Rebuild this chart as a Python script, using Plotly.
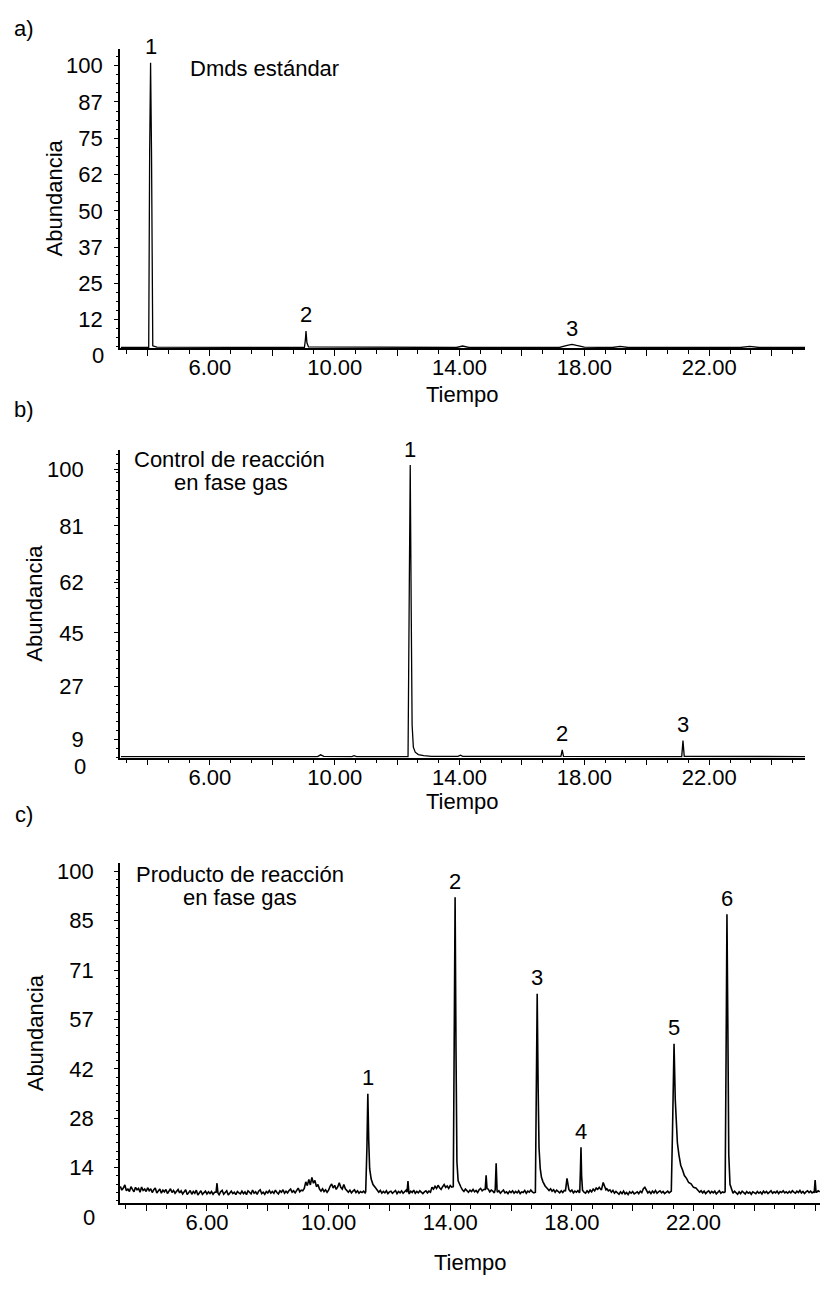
import plotly.graph_objects as go

W, H = 822, 1289
FONT = "Arial, 'Liberation Sans', sans-serif"

# ---------------- a) Dmds estándar ----------------
a_time = [3.15, 4.04, 4.07, 4.10, 4.13, 4.17, 4.3, 9.03, 9.06, 9.08, 9.11, 9.16,
          13.9, 14.1, 14.3, 17.2, 17.45, 17.6, 17.75, 18.0, 18.9, 19.15, 19.4,
          23.0, 23.3, 23.6, 25.07]
a_abund = [2.9, 2.9, 70, 101, 70, 3.5, 3.0, 2.9, 5.5, 8.6, 4.5, 3.1,
           2.9, 3.4, 2.9, 2.9, 3.6, 4.0, 3.6, 3.0, 2.9, 3.3, 2.9,
           2.9, 3.3, 2.9, 2.9]
a_peak_names = ["1", "2", "3"]
a_peak_time = [4.10, 9.08, 17.6]
a_peak_abund = [101, 8.6, 4.0]
a_ytick_vals = [0, 12.5, 25, 37.5, 50, 62.5, 75, 87.5, 100]
a_ytick_text = ["0", "12", "25", "37", "50", "62", "75", "87", "100"]

# ---------------- b) Control de reacción ----------------
b_time = [3.15, 9.45, 9.55, 9.65, 10.55, 10.62, 10.7, 12.35, 12.39, 12.42, 12.45,
          12.48, 12.52, 12.58, 12.68, 12.85, 13.1, 13.95, 14.03, 14.1, 17.25,
          17.29, 17.33, 21.12, 21.16, 21.2, 25.07]
b_abund = [3.3, 3.3, 3.9, 3.4, 3.3, 3.6, 3.3, 3.3, 60, 101.5, 55,
           14, 6.5, 4.8, 4.0, 3.6, 3.4, 3.4, 3.8, 3.4, 3.4,
           5.6, 3.4, 3.3, 8.7, 3.4, 3.3]
b_peak_names = ["1", "2", "3"]
b_peak_time = [12.42, 17.29, 21.16]
b_peak_abund = [101.5, 5.6, 8.7]
b_ytick_vals = [0, 9, 27, 45, 62, 81, 100]
b_ytick_text = ["0", "9", "27", "45", "62", "81", "100"]

# ---------------- c) Producto de reacción ----------------
# detector baseline, one sample every 0.05 min starting at 3.15 min (one row = 1 min)
c_scan_start = 3.15
c_scan_step = 0.05
c_baseline = [
    8.9, 7.8, 8.4, 9.3, 7.6, 8.1, 7.4, 8.8, 8.0, 7.3, 8.6, 7.9, 8.3, 7.2, 8.7, 7.7, 8.1, 7.4, 8.5, 7.6,
    8.2, 7.1, 7.9, 8.4, 7.0, 7.6, 8.1, 6.9, 7.8, 7.3, 8.0, 6.8, 7.5, 8.2, 7.1, 7.7, 6.9, 7.4, 8.0, 7.0,
    7.6, 6.7, 7.3, 7.9, 6.5, 7.1, 7.7, 6.6, 7.4, 6.9, 7.8, 6.4, 7.2, 7.6, 6.6, 7.0, 7.5, 6.7, 7.3, 6.8,
    7.4, 6.6, 7.2, 7.8, 7.0, 6.5, 7.3, 7.7, 6.6, 7.1, 7.6, 6.4, 7.0, 7.5, 6.8, 7.2, 6.5, 7.4, 7.0, 6.7,
    7.5, 6.8, 7.3, 6.5, 7.6, 7.1, 6.7, 7.8, 6.9, 7.3, 6.6, 7.5, 7.9, 6.8, 7.2, 6.6, 7.4, 7.0, 7.7, 6.9,
    7.4, 6.9, 7.8, 7.1, 6.7, 7.6, 7.2, 7.9, 6.9, 7.5, 7.0, 7.7, 8.1, 7.2, 7.6, 7.0, 7.9, 8.4, 7.3, 7.8,
    7.6, 8.3, 10.2, 9.1, 10.9, 9.3, 11.5, 9.8, 10.6, 8.8, 9.4, 8.1, 7.5, 8.2, 7.4, 7.9, 7.2, 7.8, 8.9, 9.6,
    8.4, 9.2, 8.0, 8.7, 9.9, 8.6, 8.1, 9.4, 8.2, 7.6, 7.2, 7.8, 7.0, 7.5, 7.9, 7.1, 7.6, 6.9, 7.4, 7.1,
    7.5, 7.0, 7.6, 7.3, 7.8, 7.4, 7.9, 7.5, 7.8, 7.6, 7.2, 7.7, 6.9, 7.4, 7.0, 7.6, 6.8, 7.3, 7.5, 6.9,
    7.2, 7.7, 6.8, 7.4, 7.0, 7.6, 6.9, 7.3, 7.8, 7.0, 6.7, 7.5, 7.1, 7.8, 6.9, 7.4, 7.0, 7.6, 7.2, 6.8,
    7.3, 7.6, 7.0, 7.5, 7.2, 8.6, 8.1, 8.9, 8.3, 9.2, 8.5, 8.0, 8.8, 9.4, 8.6, 9.0, 8.3, 9.1, 8.7, 9.2,
    9.0, 8.8, 8.5, 8.2, 8.7, 7.9, 7.4, 8.1, 7.6, 7.2, 7.8, 7.4, 8.0, 7.3, 7.7, 7.1, 7.9, 8.3, 7.6, 8.0,
    8.4, 7.6, 8.1, 7.3, 7.8, 7.5, 7.0, 7.7, 7.2, 7.6, 6.9, 7.4, 7.8, 7.0, 7.3, 6.8, 7.5, 7.1, 7.6, 6.9,
    7.4, 7.0, 7.6, 6.8, 7.3, 7.1, 7.7, 6.9, 7.5, 7.2, 7.8, 7.3, 7.0, 7.6, 7.2, 7.9, 7.4, 8.0, 7.6, 8.3,
    8.6, 8.1, 7.7, 8.2, 7.5, 7.9, 7.2, 7.8, 7.4, 7.0, 7.6, 7.1, 7.7, 7.3, 7.5, 6.9, 7.4, 7.8, 7.0, 7.5,
    7.2, 7.7, 7.0, 7.5, 7.9, 7.2, 6.9, 7.6, 7.1, 7.8, 7.3, 8.1, 7.6, 8.4, 8.0, 8.6, 8.2, 8.9, 8.4, 8.0,
    8.2, 7.6, 7.9, 7.2, 7.7, 6.9, 7.4, 7.0, 6.6, 7.3, 6.8, 7.5, 6.7, 7.1, 6.5, 7.3, 6.9, 7.4, 6.7, 7.0,
    7.3, 6.8, 7.5, 7.1, 8.2, 8.6, 7.6, 7.0, 7.4, 6.8, 7.5, 7.0, 7.7, 6.9, 7.3, 7.6, 7.0, 7.4, 6.8, 7.2,
    7.5, 7.0, 7.6, 7.3, 7.5, 7.2, 7.7, 7.4, 7.6, 7.3, 7.8, 7.4, 7.6, 7.3, 7.7, 7.4, 7.6, 7.3, 7.5, 7.2,
    7.8, 7.2, 7.6, 7.0, 7.5, 6.8, 7.3, 7.6, 6.9, 7.4, 7.0, 7.5, 6.7, 7.2, 7.6, 6.9, 7.3, 7.1, 7.4, 7.0,
    7.2, 6.7, 7.4, 6.9, 7.5, 7.0, 6.6, 7.3, 6.8, 7.5, 7.1, 6.7, 7.4, 6.9, 7.2, 6.6, 7.3, 7.0, 6.8, 7.4,
    6.9, 7.3, 6.7, 7.5, 7.0, 7.4, 6.8, 7.2, 7.6, 6.9, 7.3, 7.0, 7.5, 6.8, 7.4, 7.1, 7.6, 7.0, 7.3, 6.9,
    7.4, 7.0, 7.6, 7.2, 6.9, 7.5, 7.1, 7.7, 7.0, 7.4, 6.8, 7.3, 7.6, 7.1, 7.5, 7.0, 7.3, 7.8, 7.2, 7.6,
    7.3,
]
# peaks and spikes sampled finely (time, abundance)
c_seg_time = [
    [6.30, 6.33, 6.36],
    [11.22, 11.26, 11.29, 11.32, 11.35, 11.40, 11.46, 11.53, 11.60],
    [12.58, 12.61, 12.64],
    [14.10, 14.13, 14.16, 14.19, 14.22, 14.26, 14.32],
    [15.15, 15.18, 15.21],
    [15.48, 15.51, 15.54],
    [16.80, 16.83, 16.86, 16.89, 16.92, 16.96, 17.00, 17.05, 17.12, 17.20],
    [17.79, 17.84, 17.90],
    [18.26, 18.28, 18.30, 18.32, 18.35],
    [18.97, 19.03, 19.12],
    [21.27, 21.31, 21.36, 21.40, 21.43, 21.47, 21.52, 21.58, 21.64, 21.70,
     21.77, 21.84, 21.92, 22.00, 22.08, 22.16],
    [23.04, 23.07, 23.10, 23.13, 23.16, 23.20, 23.26],
    [25.97, 26.00, 26.03],
]
c_seg_abund = [
    [7.2, 9.8, 7.0],
    [7.3, 20.0, 35.7, 22.0, 14.0, 11.0, 9.4, 8.6, 7.6],
    [7.2, 10.4, 7.0],
    [8.8, 50.0, 92.5, 48.0, 16.0, 10.5, 9.0],
    [8.0, 12.1, 8.2],
    [8.0, 15.6, 7.8],
    [7.2, 35.0, 64.6, 38.0, 20.0, 14.0, 11.5, 10.2, 9.0, 8.2],
    [7.6, 11.2, 8.0],
    [7.4, 13.0, 20.2, 12.0, 7.8],
    [7.8, 10.0, 7.9],
    [7.5, 25.0, 50.1, 34.0, 27.0, 21.5, 18.0, 15.0, 13.6, 12.0,
     11.2, 10.0, 9.6, 8.6, 8.4, 7.7],
    [7.3, 45.0, 87.6, 55.0, 18.0, 9.5, 7.6],
    [7.0, 10.7, 7.2],
]
c_peak_names = ["1", "2", "3", "4", "5", "6"]
c_peak_segment = [1, 3, 6, 8, 10, 11]
c_ytick_vals = [0, 100 / 7, 200 / 7, 300 / 7, 400 / 7, 500 / 7, 600 / 7, 100]
c_ytick_text = ["0", "14", "28", "42", "57", "71", "85", "100"]

# x axis: ticks every 2 min, labels every 4 min
ab_xtick_vals = [4, 6, 8, 10, 12, 14, 16, 18, 20, 22, 24]
ab_xtick_text = ["", "6.00", "", "10.00", "", "14.00", "", "18.00", "", "22.00", ""]
c_xtick_vals = [4, 6, 8, 10, 12, 14, 16, 18, 20, 22, 24, 26]
c_xtick_text = ["", "6.00", "", "10.00", "", "14.00", "", "18.00", "", "22.00", "", ""]

# assemble the panel c trace: baseline samples outside the finely sampled segments
base_t = [c_scan_start + i * c_scan_step for i in range(len(c_baseline))]
spans = [(seg[0], seg[-1]) for seg in c_seg_time]
c_points = [(t, y) for t, y in zip(base_t, c_baseline)
            if not any(lo <= t <= hi for lo, hi in spans)]
for st, sy in zip(c_seg_time, c_seg_abund):
    c_points += list(zip(st, sy))
c_points.sort()
c_time = [p[0] for p in c_points]
c_abund = [p[1] for p in c_points]
c_peak_time = [c_seg_time[i][c_seg_abund[i].index(max(c_seg_abund[i]))] for i in c_peak_segment]
c_peak_abund = [max(c_seg_abund[i]) for i in c_peak_segment]

# ---------------- layout geometry (pixels) ----------------
panels = [
    dict(key="", t=a_time, y=a_abund, px=(120, 805), py=(45, 345), xr=(3.12, 25.07),
         yr=(2.75, 105.8), yv=a_ytick_vals, yt=a_ytick_text, ymin=3.125,
         xv=ab_xtick_vals, xt=ab_xtick_text, stand=7, lab_gap=14,
         names=a_peak_names, pt=a_peak_time, pa=a_peak_abund, ytitle_x=54),
    dict(key="2", t=b_time, y=b_abund, px=(120, 805), py=(447, 756), xr=(3.12, 25.07),
         yr=(2.95, 106.7), yv=b_ytick_vals, yt=b_ytick_text, ymin=3,
         xv=ab_xtick_vals, xt=ab_xtick_text, stand=26, lab_gap=32,
         names=b_peak_names, pt=b_peak_time, pa=b_peak_abund, ytitle_x=35),
    dict(key="3", t=c_time, y=c_abund, px=(120, 820), py=(862, 1203), xr=(3.14, 26.16),
         yr=(4.0, 102.3), yv=c_ytick_vals, yt=c_ytick_text, ymin=100 / 42,
         xv=c_xtick_vals, xt=c_xtick_text, stand=16, lab_gap=23,
         names=c_peak_names, pt=c_peak_time, pa=c_peak_abund, ytitle_x=35),
]
xtitle_y = [392, 800, 1262]
letters = [("a)", 25), ("b)", 407), ("c)", 813)]


def fx(x):
    return x / W


def fy(y):
    return 1 - y / H


fig = go.Figure()
annotations = []
layout = dict(
    width=W, height=H, margin=dict(l=0, r=0, t=0, b=0),
    paper_bgcolor="white", plot_bgcolor="white", showlegend=False,
    font=dict(family=FONT, size=22, color="black"),
)

for i, p in enumerate(panels):
    k = p["key"]
    fig.add_trace(go.Scatter(
        x=p["t"], y=p["y"], mode="lines", xaxis="x" + k, yaxis="y" + k,
        line=dict(color="black", width=1.6 if k == "3" else 1.3),
        hoverinfo="skip",
    ))
    layout["xaxis" + k] = dict(
        domain=[fx(p["px"][0]), fx(p["px"][1])], range=list(p["xr"]),
        anchor="y" + k, showline=True, linecolor="black", linewidth=1.6,
        ticks="outside", ticklen=6, tickwidth=1.2, tickcolor="black",
        tickmode="array", tickvals=p["xv"], ticktext=p["xt"],
        tickfont=dict(size=22), ticklabelstandoff=-7,
        showgrid=False, zeroline=False,
        minor=dict(ticks="outside", ticklen=4, tickwidth=1, tickcolor="black",
                   tick0=0, dtick=2 / 3, showgrid=False),
    )
    layout["yaxis" + k] = dict(
        domain=[fy(p["py"][1]), fy(p["py"][0])], range=list(p["yr"]),
        anchor="x" + k, showline=True, linecolor="black", linewidth=1.6,
        ticks="outside", ticklen=4, tickwidth=1.2, tickcolor="black",
        tickmode="array", tickvals=p["yv"], ticktext=p["yt"],
        tickfont=dict(size=22), ticklabelstandoff=p["stand"],
        showgrid=False, zeroline=False,
        minor=dict(ticks="outside", ticklen=2.5, tickwidth=1, tickcolor="black",
                   tick0=0, dtick=p["ymin"], showgrid=False),
    )
    # tick labels that sit below the x axis line (value below the axis start)
    r0, r1 = p["yr"]
    top, bot = p["py"]
    for v, txt in zip(p["yv"], p["yt"]):
        if v < r0:
            ypx = bot + (r0 - v) / (r1 - r0) * (bot - top)
            annotations.append(dict(
                text=txt, xref="paper", yref="paper", x=fx(p["px"][0] - p["lab_gap"]),
                y=fy(ypx), xanchor="right", yanchor="middle", showarrow=False,
                font=dict(size=22)))
    # peak numbers
    for name, t, a in zip(p["names"], p["pt"], p["pa"]):
        annotations.append(dict(
            text=name, x=t, y=a, xref="x" + k, yref="y" + k, showarrow=False,
            yshift=16, yanchor="middle", xanchor="center", font=dict(size=22)))
    # axis titles
    annotations.append(dict(
        text="Abundancia", xref="paper", yref="paper", x=fx(p["ytitle_x"]),
        y=fy((top + bot) / 2), textangle=-90, showarrow=False,
        xanchor="center", yanchor="middle", font=dict(size=22)))
    annotations.append(dict(
        text="Tiempo", xref="paper", yref="paper", x=fx((p["px"][0] + p["px"][1]) / 2),
        y=fy(xtitle_y[i]), showarrow=False, xanchor="center", yanchor="middle",
        font=dict(size=22)))
    annotations.append(dict(
        text=letters[i][0], xref="paper", yref="paper", x=fx(24), y=fy(letters[i][1]),
        showarrow=False, xanchor="center", yanchor="middle", font=dict(size=22)))

# sample descriptions
annotations += [
    dict(text="Dmds estándar", xref="paper", yref="paper", x=fx(188), y=fy(65),
         xanchor="left", yanchor="middle", showarrow=False, font=dict(size=22)),
    dict(text="Control de reacción", xref="paper", yref="paper", x=fx(229), y=fy(457),
         xanchor="center", yanchor="middle", showarrow=False, font=dict(size=22)),
    dict(text="en fase gas", xref="paper", yref="paper", x=fx(231), y=fy(480),
         xanchor="center", yanchor="middle", showarrow=False, font=dict(size=22)),
    dict(text="Producto de reacción", xref="paper", yref="paper", x=fx(240), y=fy(873),
         xanchor="center", yanchor="middle", showarrow=False, font=dict(size=22)),
    dict(text="en fase gas", xref="paper", yref="paper", x=fx(240), y=fy(896),
         xanchor="center", yanchor="middle", showarrow=False, font=dict(size=22)),
]
layout["annotations"] = annotations
fig.update_layout(**layout)
fig.write_html("out.html")
